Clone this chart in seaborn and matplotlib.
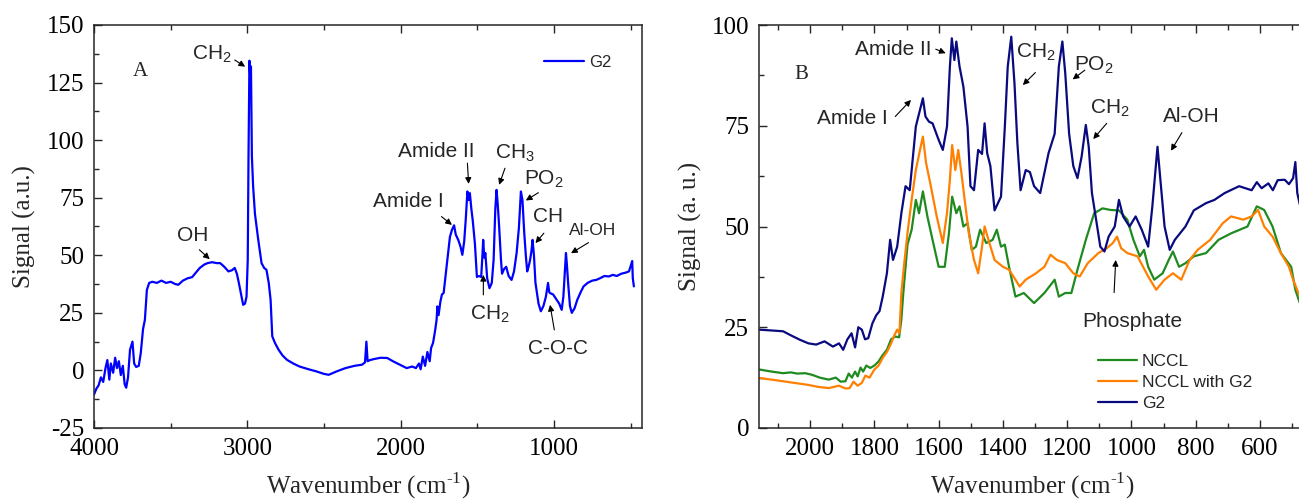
import matplotlib
matplotlib.use("Agg")
import matplotlib.pyplot as plt
from matplotlib.ticker import MultipleLocator
import numpy as np
import pandas as pd
import seaborn as sns

# ---------------- Panel A: G2 spectrum (full range) ----------------
g2_full_wn = [
    4000, 3985, 3970, 3955, 3940, 3925, 3913, 3900, 3890, 3875,
    3862, 3850, 3838, 3825, 3812, 3800, 3790, 3778, 3765, 3749,
    3738, 3725, 3708, 3695, 3680, 3668, 3655, 3640,
    3620, 3590, 3560, 3530, 3500, 3470, 3450, 3420, 3390, 3360,
    3341, 3310, 3280, 3259, 3230, 3200, 3177, 3150, 3123, 3100,
    3082, 3068, 3055, 3040, 3027, 3015, 3005, 2997,
    2992, 2986, 2981, 2976, 2970, 2962, 2950, 2929, 2907, 2890,
    2875, 2860, 2848, 2837, 2820, 2796, 2770, 2741, 2700, 2659,
    2600, 2550, 2500, 2469, 2420, 2360, 2300, 2251, 2232, 2223,
    2215, 2200, 2169, 2130, 2087, 2050, 2005, 1960, 1924, 1900,
    1880, 1869, 1855, 1840, 1825, 1810, 1801, 1788, 1774, 1765,
    1760, 1752, 1740, 1730, 1719, 1705, 1692, 1678, 1665, 1651,
    1640, 1624, 1610, 1597, 1585, 1575,
    1564, 1556, 1548, 1538, 1529, 1515, 1502, 1490, 1474, 1466,
    1461, 1454, 1447, 1435, 1420, 1405, 1393, 1382, 1374, 1366,
    1357, 1345, 1338, 1325, 1311, 1295,
    1276, 1260, 1243, 1228, 1215, 1205, 1193, 1183, 1174, 1165,
    1155, 1146, 1139, 1130, 1120, 1100, 1085, 1068, 1052, 1045,
    1038, 1030, 1025, 1005, 985, 965,
    949, 938, 929, 921, 914, 907, 895, 883, 865, 847,
    825, 806, 780, 750, 724, 700, 670, 642, 615, 590,
    560, 530, 510, 493, 489, 485, 478,
]
g2_full_sig = [
    -10.5, -8, -6.5, -3, -5, 1, 4.5, -4, 3, -1,
    5.5, 1, 4, -2, 2, -6, -7.5, -3, 9, 12.5,
    3, 1.5, 2, 7.5, 18, 22, 35, 38,
    38.5, 38, 39, 38, 38.5, 37.5, 37.2, 39, 40, 40.5,
    42, 44.5, 46, 46.6, 47, 46.6, 46.6, 45, 43, 43.5,
    44.5, 42, 38, 33, 28.5, 29, 32, 48,
    93, 134.5, 128, 132, 93, 80, 68, 57, 46.6, 44.5,
    43.7, 38, 30.7, 14.8, 12, 9, 6.5, 4.6, 3, 1.7,
    0.5, -0.4, -1.5, -1.9, -0.5, 1, 2, 2.5, 3.5, 12.5,
    4, 4.5, 5, 5.5, 5.4, 4, 2.5, 1, 1.7, 1,
    3, 0.5, 6, 2, 8, 4, 9.7, 12, 17.6, 22,
    27.8, 24, 30, 33, 33.6, 42, 49.5, 58, 61, 63,
    59, 56.7, 54, 50.2, 56, 65.4,
    77.7, 74, 77, 70, 65, 55, 40.6, 41, 40.6, 50,
    56.7, 49, 51, 40, 35.7, 38, 48, 70, 78.4, 72,
    62.5, 48, 42, 44, 45, 41,
    39.3, 43, 51, 62, 77.7, 74, 59.5, 50, 43, 45,
    48, 52, 56.7, 50, 38, 29, 25.7, 28, 32, 35,
    38, 34, 33.6, 33, 31, 29,
    26.3, 32, 42, 51, 45, 38, 28, 25, 27, 30.7,
    34, 36.5, 38, 39, 39.3, 40, 41, 40.8, 41.5, 41,
    42, 42.5, 43, 46.6, 47.5, 40, 36.5,
]

# ---------------- Panel B: 2150-475 cm-1 region ----------------
g2_wn = [
    2157, 2120, 2084, 2060, 2032, 2005, 1981, 1955, 1929, 1910,
    1897, 1884, 1871, 1860, 1850, 1839, 1829, 1819, 1806, 1794,
    1784, 1774, 1761, 1751, 1742, 1729, 1716, 1703, 1690, 1677,
    1671, 1661, 1649, 1641, 1630, 1619, 1600, 1587, 1574, 1565,
    1559, 1551, 1545, 1535, 1523, 1510, 1501, 1490, 1477, 1465,
    1457, 1449, 1439, 1426, 1406, 1394, 1385, 1374, 1364, 1355,
    1345, 1329, 1316, 1303, 1284, 1258, 1239, 1226, 1215, 1206,
    1194, 1181, 1168, 1155, 1142, 1133, 1123, 1110, 1097, 1084,
    1071, 1052, 1039, 1026, 1006, 987, 968, 948, 935, 919,
    910, 897, 881, 865, 832, 806, 768, 742, 710, 665,
    626, 610, 595, 574, 560, 545, 523, 510, 497, 490,
    484, 476,
]
g2_sig = [
    24.4, 24.2, 24, 23, 21.9, 21, 20.7, 21.5, 20.2, 21,
    19.4, 22, 23.5, 20, 25, 24.4, 22, 22.3, 26, 28,
    29, 32.6, 38.4, 46.7, 41.7, 45, 53.3, 60, 59, 69.8,
    74.8, 78, 81.8, 77.3, 76, 75.6, 71.5, 69, 74.8, 89.7,
    96.7, 91.3, 95.9, 89.7, 84.7, 74.8, 60, 59, 69, 68,
    75.6, 68.2, 65, 54, 57.4, 74.8, 89.7, 97.1, 85.5, 70.7,
    59, 64, 63.5, 60, 58.3, 68.2, 73, 89.7, 95.9, 88,
    73, 65, 62, 67.4, 75.2, 69.8, 58.3, 51.7, 45, 43.8,
    47.5, 50, 56.6, 52.5, 50, 52.5, 49.2, 45, 55, 69.8,
    61.6, 50, 44.2, 46.7, 50, 54, 55.8, 56.6, 58.3, 60,
    59, 61, 59.5, 60.7, 59, 61.5, 61.6, 60.5, 62, 66,
    58.3, 55.4,
]

nccl_wn = [
    2157, 2120, 2084, 2060, 2040, 2015, 1994, 1970, 1942, 1920,
    1905, 1890, 1880, 1870, 1860, 1852, 1843, 1835, 1825, 1813,
    1800, 1787, 1775, 1761, 1748, 1735, 1723, 1716, 1710, 1697,
    1684, 1671, 1661, 1649, 1635, 1619, 1600, 1581, 1568, 1558,
    1545, 1535, 1523, 1510, 1497, 1484, 1471, 1452, 1432, 1419,
    1406, 1394, 1381, 1361, 1335, 1303, 1271, 1239, 1226, 1206,
    1187, 1168, 1142, 1116, 1090, 1065, 1039, 1013, 994, 974,
    961, 948, 929, 903, 884, 871, 852, 832, 806, 768,
    729, 690, 639, 610, 587, 561, 535, 503, 490, 476,
]
nccl_sig = [
    14.5, 14, 13.6, 13.8, 13.5, 13.6, 13.2, 12.5, 12, 12.5,
    11.5, 11.6, 13.5, 12.5, 14, 12.8, 15, 14, 15.5, 14.9,
    15.5, 16.5, 18, 19.4, 22, 22.7, 22.5, 27, 33.5, 45.5,
    49.2, 56.6, 53.3, 58.7, 52.5, 46.7, 40, 40, 48.3, 57.4,
    53.3, 55, 50, 50.8, 44.2, 45, 49.2, 45.9, 46.7, 49.2,
    45, 45.5, 40, 32.6, 33.5, 31, 33.5, 36.8, 32.6, 33.5,
    33.5, 39.3, 46.7, 53.3, 54.5, 54.1, 54, 51.7, 46.7, 42.6,
    44.2, 40, 36.8, 38.4, 41.7, 43.8, 40, 40.9, 42.6, 43.4,
    46.7, 48.3, 50, 55, 54.1, 50, 43.4, 40, 34.3, 31,
]

nccl_g2_wn = [
    2157, 2120, 2084, 2050, 2006, 1975, 1942, 1910, 1890, 1877,
    1865, 1852, 1839, 1828, 1815, 1800, 1787, 1774, 1760, 1748,
    1738, 1729, 1722, 1716, 1707, 1697, 1684, 1671, 1658, 1649,
    1639, 1626, 1606, 1587, 1574, 1565, 1558, 1548, 1539, 1529,
    1519, 1506, 1490, 1477, 1465, 1457, 1445, 1426, 1400, 1381,
    1361, 1348, 1329, 1297, 1271, 1252, 1232, 1206, 1181, 1161,
    1136, 1103, 1077, 1058, 1045, 1032, 1013, 981, 948, 923,
    897, 871, 845, 819, 794, 755, 716, 690, 652, 626,
    606, 587, 561, 535, 510, 497, 476,
]
nccl_g2_sig = [
    12.4, 12, 11.6, 11.2, 10.7, 10.2, 9.9, 10.5, 9.8, 9.9,
    11.5, 10.5, 11.2, 13, 12.5, 14.5, 15.5, 17.4, 19, 21,
    23, 24.4, 23.5, 33.5, 40.9, 48.3, 56.6, 64, 69, 72.3,
    65.7, 60.7, 52.5, 45.9, 53.3, 61.6, 70.2, 64, 69, 63.2,
    56.6, 48.3, 41.7, 38.4, 45, 50, 46.7, 41.7, 40, 39.3,
    36.8, 35.1, 36.8, 38.4, 40, 43, 41.7, 40.9, 38.4, 37.6,
    40.9, 43.4, 44.6, 45.9, 47.5, 44.6, 43.4, 42.6, 37.6, 34.3,
    36.8, 38.4, 36.8, 41.7, 44.2, 46.7, 50.8, 52.5, 51.7, 52.5,
    54.1, 50, 47.5, 43.4, 40, 36.8, 32.6,
]

series_names = ["NCCL", "NCCL with G2", "G2"]
series_colors = ["#1f8a1f", "#ff8000", "#0a0a80"]

# ---------------- Style ----------------
sns.set_theme(style="ticks")
plt.rcParams["font.family"] = ["Liberation Serif", "DejaVu Serif"]
plt.rcParams["axes.unicode_minus"] = False
plt.rcParams["axes.edgecolor"] = "#262626"
plt.rcParams["axes.linewidth"] = 1.1
plt.rcParams["mathtext.fontset"] = "custom"
plt.rcParams["mathtext.rm"] = "Liberation Serif"

SANS = ["Liberation Sans", "DejaVu Sans"]

fig = plt.figure(figsize=(12.99, 5.0), dpi=100)
axA = fig.add_axes([94 / 1299, 72 / 500, 548 / 1299, 403 / 500])
axB = fig.add_axes([759 / 1299, 72 / 500, 546 / 1299, 403 / 500])

dfA = pd.DataFrame({"wn": g2_full_wn, "sig": g2_full_sig, "sample": "G2"})
sns.lineplot(data=dfA, x="wn", y="sig", hue="sample", palette=["#0000ff"],
             estimator=None, lw=1.6, ax=axA)

dfB = pd.concat([
    pd.DataFrame({"wn": nccl_wn, "sig": nccl_sig, "sample": "NCCL"}),
    pd.DataFrame({"wn": nccl_g2_wn, "sig": nccl_g2_sig, "sample": "NCCL with G2"}),
    pd.DataFrame({"wn": g2_wn, "sig": g2_sig, "sample": "G2"}),
], ignore_index=True)
sns.lineplot(data=dfB, x="wn", y="sig", hue="sample", hue_order=series_names,
             palette=series_colors, estimator=None, lw=1.6, ax=axB)


def style_axes(ax, xlim, ylim, xmaj, xmin, ymaj, ymin, ylabel):
    ax.set_xlim(*xlim)
    ax.set_ylim(*ylim)
    ax.xaxis.set_major_locator(MultipleLocator(xmaj))
    ax.xaxis.set_minor_locator(MultipleLocator(xmin))
    ax.yaxis.set_major_locator(MultipleLocator(ymaj))
    ax.yaxis.set_minor_locator(MultipleLocator(ymin))
    ax.tick_params(which="both", direction="in", top=True, right=False,
                   labelsize=18, colors="#262626", labelcolor="black")
    ax.tick_params(which="major", length=6, width=1.0, pad=7)
    ax.tick_params(which="minor", length=3.5, width=1.0)
    ax.set_xlabel("Wavenumber (cm$^{\\text{-1}}$)", fontsize=18)
    ax.set_ylabel(ylabel, fontsize=18)
    ax.xaxis.set_label_coords(0.5, -0.105)
    ax.yaxis.set_label_coords(-0.105, 0.5)
    for s in ax.spines.values():
        s.set_visible(True)


style_axes(axA, (4000, 425), (-25, 150), 1000, 500, 25, 12.5, "Signal (a.u.)")
style_axes(axB, (2159, 460), (0, 100), 200, 100, 25, 12.5, "Signal (a. u.)")
axB.spines["right"].set_visible(False)

axA.legend(loc="upper left", bbox_to_anchor=(0.821, 0.925), frameon=False,
           borderaxespad=0, borderpad=0, handlelength=2.4, handletextpad=0.3,
           prop={"family": SANS, "size": 12})
axB.legend(loc="upper left", bbox_to_anchor=(0.62, 0.183), frameon=False,
           borderaxespad=0, borderpad=0, handlelength=2.3, handletextpad=0.25,
           labelspacing=0.32, prop={"family": SANS, "size": 12.5})

ARROW = dict(arrowstyle="-|>", color="black", lw=0.8, mutation_scale=9,
             shrinkA=0, shrinkB=0)


def label(ax, txt, x, y, size=15):
    ax.text(x, y, txt, ha="center", va="center", fontsize=size, family=SANS)


def arrow(ax, start, end):
    ax.annotate("", xy=end, xytext=start, arrowprops=ARROW)


# panel letters
axA.text(3695, 129.8, "A", ha="center", va="center", fontsize=15)
axB.text(2026, 87.6, "B", ha="center", va="center", fontsize=15)

# Panel A band assignments
label(axA, "OH", 3354, 58.6)
arrow(axA, (3313, 52.4), (3245, 48.3))
label(axA, "CH$_\\mathregular{2}$", 3232, 137.2)
arrow(axA, (3082, 134.8), (3014, 131.9))
label(axA, "Amide I", 1951, 73.3)
arrow(axA, (1733, 66.8), (1665, 63.2))
label(axA, "Amide II", 1766, 95)
arrow(axA, (1564, 90), (1556, 81))
label(axA, "CH$_\\mathregular{3}$", 1256, 94.5)
arrow(axA, (1319, 87.8), (1357, 80.6))
label(axA, "PO$_\\mathregular{2}$", 1065, 83)
arrow(axA, (1101, 77.2), (1183, 73.8))
label(axA, "CH", 1038, 67)
arrow(axA, (1065, 59.6), (1120, 55.3))
label(axA, "Al-OH", 747, 60.8, size=12.5)
arrow(axA, (774, 55.5), (888, 50.9))
label(axA, "CH$_\\mathregular{2}$", 1420, 24.4)
arrow(axA, (1460, 32.8), (1460, 41.5))
label(axA, "C-O-C", 970, 9.7)
arrow(axA, (997, 17.6), (1025, 28.5))

# Panel B band assignments
label(axB, "Amide II", 1742, 94)
arrow(axB, (1609, 94), (1578, 93))
label(axB, "Amide I", 1867, 76.7)
arrow(axB, (1735, 77.3), (1686, 81.4))
label(axB, "CH$_\\mathregular{2}$", 1297, 93.3)
arrow(axB, (1299, 88.2), (1338, 85.1))
label(axB, "PO$_\\mathregular{2}$", 1116, 90)
arrow(axB, (1145, 88.8), (1183, 86.5))
label(axB, "CH$_\\mathregular{2}$", 1067, 79.3)
arrow(axB, (1077, 75.6), (1119, 71.7))
label(axB, "Al-OH", 813, 77.4)
arrow(axB, (843, 73.3), (877, 68.8))
label(axB, "Phosphate", 997, 26.4)
arrow(axB, (1054, 33.6), (1049, 41.7))

fig.savefig("out.png", dpi=100)
